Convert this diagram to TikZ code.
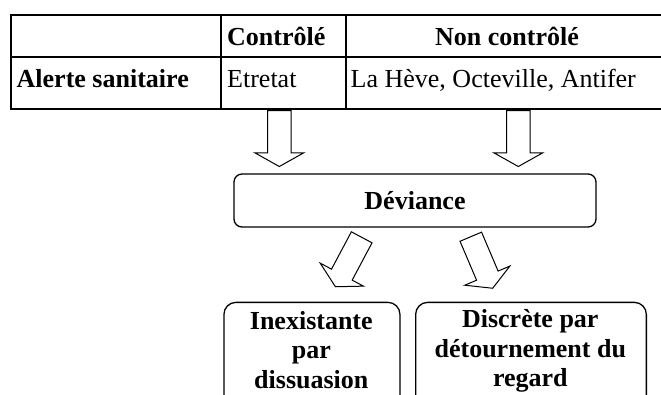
\documentclass[tikz,border=0pt]{standalone}
\usepackage{fontspec}
\setmainfont{Liberation Serif}
\begin{document}
\begin{tikzpicture}[x=1pt,y=-1pt,
  tline/.style={line width=2pt},
  txt/.style={inner sep=0pt, anchor=base west, font=\fontsize{26}{29}\selectfont},
  btxt/.style={txt, font=\fontsize{26}{29}\selectfont\bfseries},
  ctxt/.style={btxt, anchor=base},
  rbox/.style={draw, line width=1.3pt, rounded corners=8pt, inner sep=0pt},
  barrow/.style={draw, line width=1pt, fill=white, line join=miter},
  blockarrow/.pic={\draw[barrow] (-11.7,0) -- (-11.7,42.3) -- (-24.5,42.3) -- (0,56) -- (24.5,42.3) -- (11.7,42.3) -- (11.7,0) -- cycle;}]
\useasboundingbox (0,0) rectangle (661,394);
\clip (0,0) rectangle (661,394);
% table
\draw[tline] (11,15) rectangle (670,109);
\draw[tline] (11,57) -- (670,57);
\draw[tline] (221,15) -- (221,109);
\draw[tline] (346,15) -- (346,109);
\node[btxt] (ctrl) at (227,45) {Contrôlé};
\node[ctxt] (nonctrl) at (507,45) {Non contrôlé};
\node[btxt] (alerte) at (16.5,87) {Alerte sanitaire};
\node[txt] (etretat) at (227,87) {Etretat};
\node[txt] (autres) at (350.5,87) {La Hève, Octeville, Antifer};
% deviance
\node[rbox, minimum width=362pt, minimum height=53pt, text height=17pt, text depth=0pt,
      font=\fontsize{26}{29}\selectfont\bfseries] (dev) at (415,200.5) {Déviance};
% arrows
\pic at (279.3,110.5) {blockarrow};
\pic at (518.3,110.5) {blockarrow};
\pic[rotate=-28] at (361.7,237.3) {blockarrow};
\pic[rotate=23] at (470.8,236.7) {blockarrow};
% lower boxes
\node[rbox, rounded corners=12pt, minimum width=176pt, minimum height=130pt, anchor=north west] (inex) at (223.3,301.7) {};
\node[rbox, rounded corners=12pt, minimum width=230.7pt, minimum height=130pt, anchor=north west] (disc) at (415,301.7) {};
\node[ctxt] (inexA) at (311.3,329.5) {Inexistante};
\node[ctxt] (inexB) at (311.3,358.5) {par};
\node[ctxt] (inexC) at (311.3,388) {dissuasion};
\node[ctxt] (discA) at (530.3,327.5) {Discrète par};
\node[ctxt] (discB) at (530.3,357) {détournement du};
\node[ctxt] (discC) at (530.3,386) {regard};
\end{tikzpicture}
\end{document}
